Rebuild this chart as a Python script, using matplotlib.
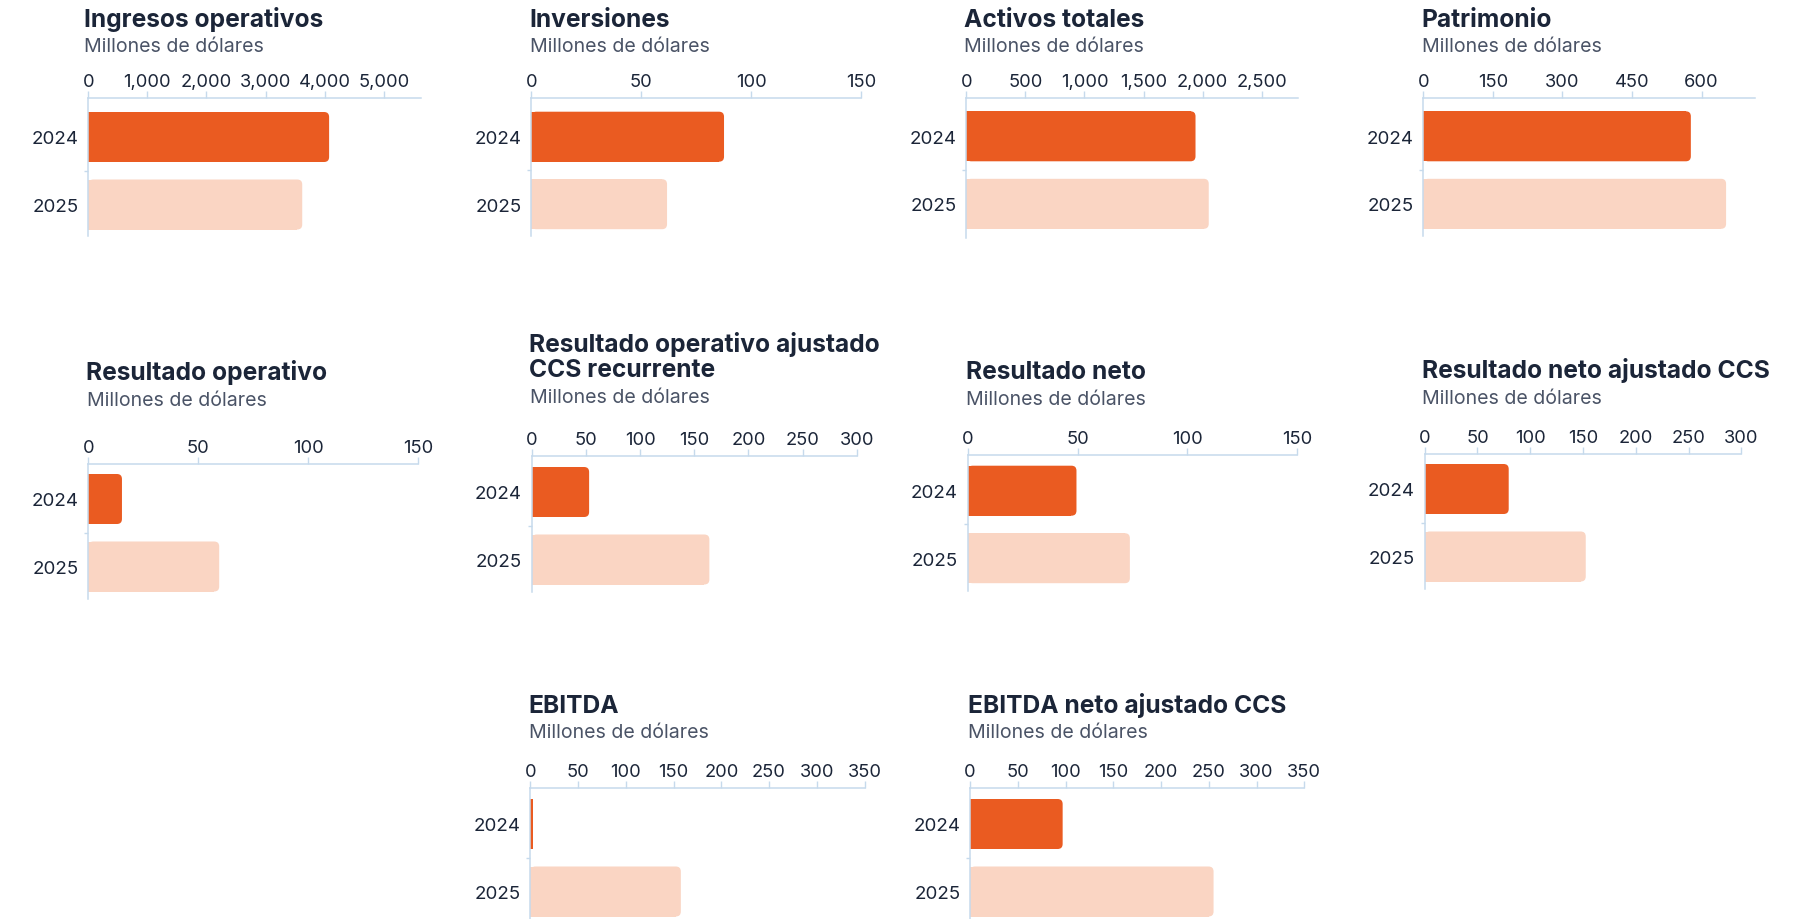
import matplotlib
matplotlib.use("Agg")
import matplotlib.pyplot as plt
from matplotlib.patches import FancyBboxPatch
from matplotlib.ticker import FuncFormatter

# ---------------- data ----------------
years = ["2024", "2025"]

titles = [
    "Ingresos operativos",
    "Inversiones",
    "Activos totales",
    "Patrimonio",
    "Resultado operativo",
    "Resultado operativo ajustado\nCCS recurrente",
    "Resultado neto",
    "Resultado neto ajustado CCS",
    "EBITDA",
    "EBITDA neto ajustado CCS",
]
subtitle = "Millones de dólares"

ingresos_operativos = [4075, 3620]
inversiones = [87.6, 61.7]
activos_totales = [1940, 2052]
patrimonio = [577, 653]
resultado_operativo = [15.3, 59.5]
resultado_operativo_ajustado = [53, 164]
resultado_neto = [49.5, 73.8]
resultado_neto_ajustado = [79.6, 152.6]
ebitda = [3, 157.6]
ebitda_neto_ajustado = [97, 255]

series = [ingresos_operativos, inversiones, activos_totales, patrimonio,
          resultado_operativo, resultado_operativo_ajustado, resultado_neto,
          resultado_neto_ajustado, ebitda, ebitda_neto_ajustado]

ticks = [
    [0, 1000, 2000, 3000, 4000, 5000],
    [0, 50, 100, 150],
    [0, 500, 1000, 1500, 2000, 2500],
    [0, 150, 300, 450, 600],
    [0, 50, 100, 150],
    [0, 50, 100, 150, 200, 250, 300],
    [0, 50, 100, 150],
    [0, 50, 100, 150, 200, 250, 300],
    [0, 50, 100, 150, 200, 250, 300, 350],
    [0, 50, 100, 150, 200, 250, 300, 350],
]
xmax = [5630, 150, 2810, 716, 150, 300, 150, 300, 350, 350]

# ---------------- layout (pixels, y from top) ----------------
W, H = 1802, 920
# x0, x1, y_top(spine), center of first bar, y_bottom, title baseline, title left
layout = [
    (88.3, 421.0, 99, 138, 237, 27, 84),
    (531.3, 861.3, 99, 137.7, 237, 27, 529),
    (966.3, 1298.3, 99, 137.3, 239, 27, 964),
    (1423.3, 1755.3, 99, 137.3, 237, 27, 1421),
    (88.3, 418.3, 465, 500, 600, 380, 86.5),
    (531.7, 856.7, 456.7, 493, 593, 351.7, 529),
    (967.7, 1297.3, 456, 491.7, 592, 379.3, 966),
    (1424.7, 1741.3, 455, 490, 590, 378.3, 1422),
    (530.4, 864.5, 789.3, 825, 920, 713, 528.6),
    (970.0, 1304.3, 789.3, 825, 920, 713, 967.7),
]
BAR_STEP = 67.5   # px between bar centers
BAR_H = 50        # px bar thickness
RADIUS = 5        # px corner radius

DARK = "#EA5B21"
LIGHT = "#FAD5C3"
NAVY = "#1B2538"
GREY = "#4A5366"
AXC = "#C6DAEC"
FONT = "Inter"

fig = plt.figure(figsize=(W / 100, H / 100), dpi=100)
fig.patch.set_facecolor("white")

fmt = FuncFormatter(lambda v, p: f"{int(v):,}")

for i, (vals, tk, xm, lay, title) in enumerate(zip(series, ticks, xmax, layout, titles)):
    x0, x1, yt, c0, yb, tb, tl = lay
    ax = fig.add_axes([x0 / W, 1 - yb / H, (x1 - x0) / W, (yb - yt) / H])
    top_val = -(c0 - yt) / BAR_STEP
    bot_val = 1 + (yb - c0 - BAR_STEP) / BAR_STEP
    ax.set_xlim(0, xm)
    ax.set_ylim(bot_val, top_val)

    bars = ax.barh([0, 1], vals, height=BAR_H / BAR_STEP, color=[DARK, LIGHT],
                   linewidth=0, zorder=2)
    ux = xm / (x1 - x0)
    uy = 1 / BAR_STEP
    rx = RADIUS * ux
    for rect in bars.patches:
        bx, by = rect.get_x(), rect.get_y()
        bw, bh = rect.get_width(), rect.get_height()
        if bw > 2.2 * rx:
            rect.set_width(bw - rx)
            fb = FancyBboxPatch((bx, by), bw, bh,
                                boxstyle=f"round,pad=0,rounding_size={rx}",
                                mutation_aspect=uy / ux,
                                facecolor=rect.get_facecolor(), edgecolor="none",
                                zorder=2)
            ax.add_patch(fb)

    ax.set_yticks([0, 1])
    ax.set_yticklabels(years, fontfamily=FONT, fontsize=13.5, color=NAVY)
    ax.set_yticks([0.5], minor=True)
    ax.tick_params(axis="y", which="major", length=0, pad=7)
    ax.tick_params(axis="y", which="minor", length=3, width=1, color=AXC, direction="out")

    ax.xaxis.set_ticks_position("top")
    ax.set_xticks(tk)
    ax.xaxis.set_major_formatter(fmt)
    ax.tick_params(axis="x", which="major", length=5, width=1, color=AXC,
                   direction="out", pad=0.8, labelsize=13.2, labelcolor=NAVY)
    for lab in ax.get_xticklabels():
        lab.set_fontfamily(FONT)

    for s in ["right", "bottom"]:
        ax.spines[s].set_visible(False)
    for s in ["top", "left"]:
        ax.spines[s].set_color(AXC)
        ax.spines[s].set_linewidth(1.1)
    ax.set_facecolor("none")

    # titles (one text per line, baseline aligned)
    line_gap = 25.6
    lines = title.split("\n")
    for k, line in enumerate(lines):
        fig.text(tl / W, 1 - (tb + k * line_gap) / H, line, fontfamily=FONT,
                 fontweight="bold", fontsize=17.7, color=NAVY, va="baseline", ha="left")
    last_base = tb + (len(lines) - 1) * line_gap
    fig.text((tl + 0.5) / W, 1 - (last_base + 25.5) / H, subtitle, fontfamily=FONT,
             fontsize=14.1, color=GREY, va="baseline", ha="left")

fig.savefig("out.png", dpi=100, facecolor="white")
